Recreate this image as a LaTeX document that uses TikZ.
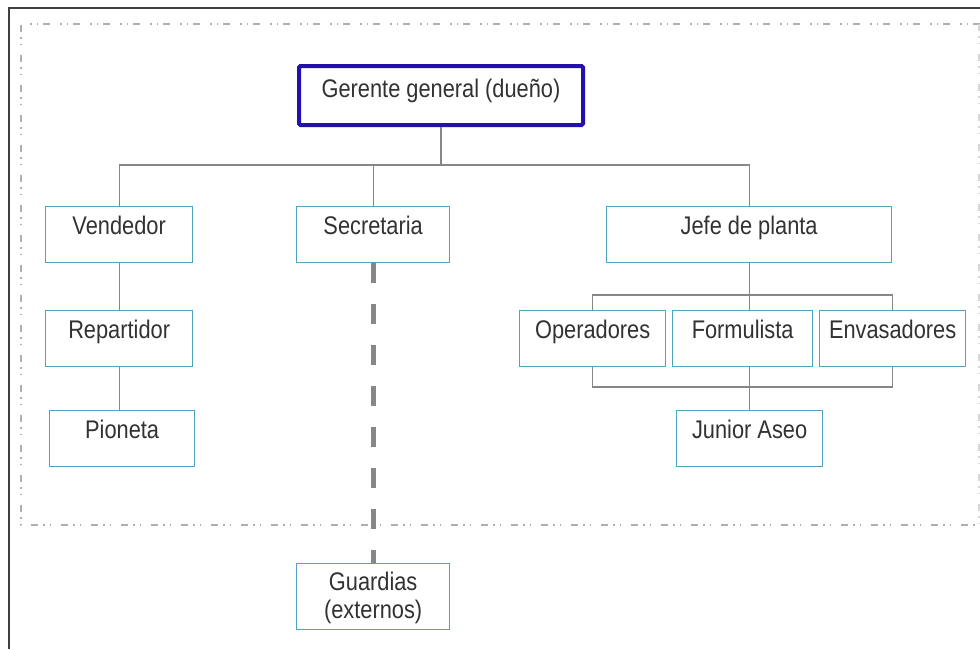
\documentclass[tikz,border=0pt]{standalone}
\usepackage{fontspec}
\setmainfont{Liberation Sans}[FakeStretch=0.855]
\definecolor{ink}{RGB}{50,50,50}
\definecolor{boxline}{RGB}{80,165,190}
\definecolor{headline}{RGB}{36,16,172}
\definecolor{wire}{RGB}{135,135,135}
\definecolor{framegray}{RGB}{64,64,64}
\definecolor{zonegray}{RGB}{175,175,175}
\begin{document}
\begin{tikzpicture}[x=1pt,y=-1pt,
  box/.style={draw=boxline, line width=1.3pt, inner sep=0pt, anchor=north west,
    text height=28pt, text depth=28pt, text=ink,
    font=\fontsize{25.5}{28}\selectfont},
  headbox/.style={box, draw=headline, line width=4pt, rounded corners=1.5pt,
    text height=31pt, text depth=28pt},
  wirel/.style={draw=wire, line width=1.3pt},
  extlink/.style={draw=wire, line width=5pt, dash pattern=on 20pt off 21pt},
  zone/.style={draw=zonegray, line width=1.2pt,
    dash pattern=on 7pt off 5pt on 1.5pt off 5pt on 1.5pt off 10pt}]
\useasboundingbox (0,0) rectangle (980,649);
\fill[white] (0,0) rectangle (980,649);

% outer frame (open to the right and bottom)
\draw[framegray, line width=1.8pt] (9,649) -- (9,8) -- (980,8);
% company zone
\draw[zone] (980,24) -- (21,24) -- (21,525) -- (980,525);
\draw[zone, draw=zonegray!50] (979,24) -- (979,525);

% boxes
\node[headbox, minimum width=284pt] (ger) at (297,64) {Gerente general (dueño)};
\node[box, minimum width=147pt] (vend) at (45,206) {Vendedor};
\node[box, minimum width=153pt] (sec) at (296,206) {Secretaria};
\node[box, minimum width=285pt] (jefe) at (606,206) {Jefe de planta};
\node[box, minimum width=147pt] (rep) at (45,310) {Repartidor};
\node[box, minimum width=145pt] (pio) at (49,410) {Pioneta};
\node[box, minimum width=146pt] (oper) at (519,310) {Operadores};
\node[box, minimum width=140pt] (form) at (672,310) {Formulista};
\node[box, minimum width=146pt] (env) at (819,310) {Envasadores};
\node[box, minimum width=146pt] (jun) at (676,410) {Junior Aseo};
\node[box, minimum width=153pt, align=center, text height=55pt, text depth=11pt]
  (guard) at (296,563) {Guardias\\(externos)};

% top level
\coordinate (b1) at (ger.south |- 0,165);
\draw[wirel] (ger.south) -- (b1);
\draw[wirel] (vend.north) |- (b1) -| (jefe.north);
\draw[wirel] (sec.north) -- (sec.north |- b1);

% sales branch
\draw[wirel] (vend.south) -- (rep.north);
\draw[wirel] (rep.south) -- (rep.south |- pio.north);

% plant branch
\coordinate (b2) at (jefe.south |- 0,295);
\coordinate (b3) at (jefe.south |- 0,387);
\draw[wirel] (jefe.south) -- (jefe.south |- form.north);
\draw[wirel] (oper.north) |- (b2) -| (env.north);
\draw[wirel] (oper.south) |- (b3) -| (env.south);
\draw[wirel] (jun.north |- form.south) -- (jun.north);

% external guards
\draw[extlink] (sec.south) -- (guard.north);
\end{tikzpicture}
\end{document}
